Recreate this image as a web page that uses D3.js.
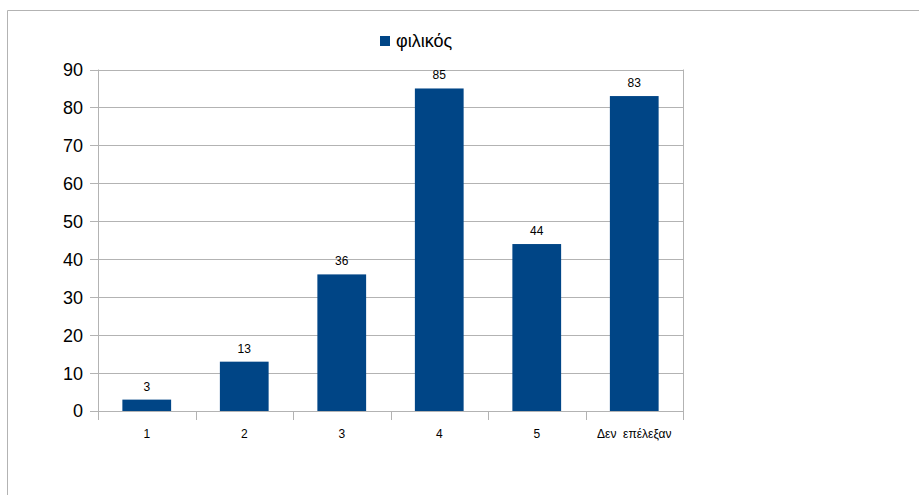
<!DOCTYPE html>
<html>
<head>
<meta charset="utf-8">
<script src="https://cdn.jsdelivr.net/npm/d3@7"></script>
<style>
  html, body { margin: 0; padding: 0; background: #fff; }
  svg { display: block; font-family: "Liberation Sans", Arial, sans-serif; }
</style>
</head>
<body>
<svg id="chart" width="919" height="495"></svg>
<script>
// Responses per rating, plus those who chose none
const categories = ["1", "2", "3", "4", "5", "Δεν  επέλεξαν"];
const values = [3, 13, 36, 85, 44, 83];
const yTicks = [0, 10, 20, 30, 40, 50, 60, 70, 80, 90];
const seriesName = "φιλικός";

const svg = d3.select("#chart");
const barColor = "#004586";
const gridColor = "#b3b3b3";

// outer frame (top and left edges visible)
svg.append("path")
  .attr("d", "M7.5,495 V10.5 H919")
  .attr("fill", "none")
  .attr("stroke", gridColor)
  .attr("stroke-width", 1);

const plot = { left: 98, right: 683, top: 69.5, bottom: 411 };

const x = d3.scaleBand()
  .domain(categories)
  .range([plot.left, plot.right])
  .paddingInner(0)
  .paddingOuter(0);

const y = d3.scaleLinear()
  .domain([0, 90])
  .range([plot.bottom, plot.top]);

// horizontal gridlines with left tick marks and labels
const yAxis = d3.axisLeft(y)
  .tickValues(yTicks)
  .tickSize(-(plot.right - plot.left) - 8)
  .tickPadding(0)
  .tickFormat(d3.format("d"));

const gy = svg.append("g")
  .attr("transform", `translate(${plot.right},0)`)
  .call(d3.axisLeft(y).tickValues(yTicks).tickSize(plot.right - plot.left + 8).tickFormat(""));
gy.select(".domain").remove();
gy.selectAll(".tick line").attr("stroke", gridColor).attr("shape-rendering", "crispEdges");

// y labels
svg.append("g")
  .selectAll("text")
  .data(yTicks)
  .join("text")
  .attr("x", 83)
  .attr("y", d => y(d))
  .attr("dy", "0.36em")
  .attr("text-anchor", "end")
  .attr("font-size", 18)
  .attr("fill", "#000")
  .text(d => d);

// vertical axis line
svg.append("line")
  .attr("x1", plot.left + 0.5).attr("x2", plot.left + 0.5)
  .attr("y1", plot.top).attr("y2", plot.bottom)
  .attr("stroke", gridColor);

// right border of plot
svg.append("line")
  .attr("x1", plot.right + 0.5).attr("x2", plot.right + 0.5)
  .attr("y1", plot.top).attr("y2", plot.bottom + 9)
  .attr("stroke", gridColor);

// bars
svg.append("g")
  .selectAll("rect")
  .data(values)
  .join("rect")
  .attr("x", (d, i) => x(categories[i]) + x.bandwidth() * 0.25)
  .attr("width", x.bandwidth() * 0.5)
  .attr("y", d => y(d))
  .attr("height", d => y(0) - y(d))
  .attr("fill", barColor);

// x axis with ticks at category boundaries
const boundaries = categories.map(c => x(c)).concat([plot.right]);
svg.append("g")
  .selectAll("line")
  .data(boundaries)
  .join("line")
  .attr("x1", d => Math.round(d) + 0.5)
  .attr("x2", d => Math.round(d) + 0.5)
  .attr("y1", plot.bottom)
  .attr("y2", plot.bottom + 9)
  .attr("stroke", gridColor);

svg.append("line")
  .attr("x1", plot.left).attr("x2", plot.right + 1)
  .attr("y1", plot.bottom + 0.5).attr("y2", plot.bottom + 0.5)
  .attr("stroke", gridColor);

// category labels
svg.append("g")
  .selectAll("text")
  .data(categories)
  .join("text")
  .attr("x", d => x(d) + x.bandwidth() / 2)
  .attr("y", 438)
  .attr("text-anchor", "middle")
  .attr("font-size", 12)
  .attr("fill", "#000")
  .style("white-space", "pre")
  .text(d => d);

// value labels
svg.append("g")
  .selectAll("text")
  .data(values)
  .join("text")
  .attr("x", (d, i) => x(categories[i]) + x.bandwidth() / 2)
  .attr("y", d => y(d) - 9)
  .attr("text-anchor", "middle")
  .attr("font-size", 12)
  .attr("fill", "#000")
  .text(d => d);

// legend
const legend = svg.append("g");
legend.append("rect")
  .attr("x", 380).attr("y", 36)
  .attr("width", 10).attr("height", 10)
  .attr("fill", barColor);
legend.append("text")
  .attr("x", 396).attr("y", 41)
  .attr("dy", "0.36em")
  .attr("font-size", 18)
  .attr("fill", "#000")
  .text(seriesName);
</script>
</body>
</html>
